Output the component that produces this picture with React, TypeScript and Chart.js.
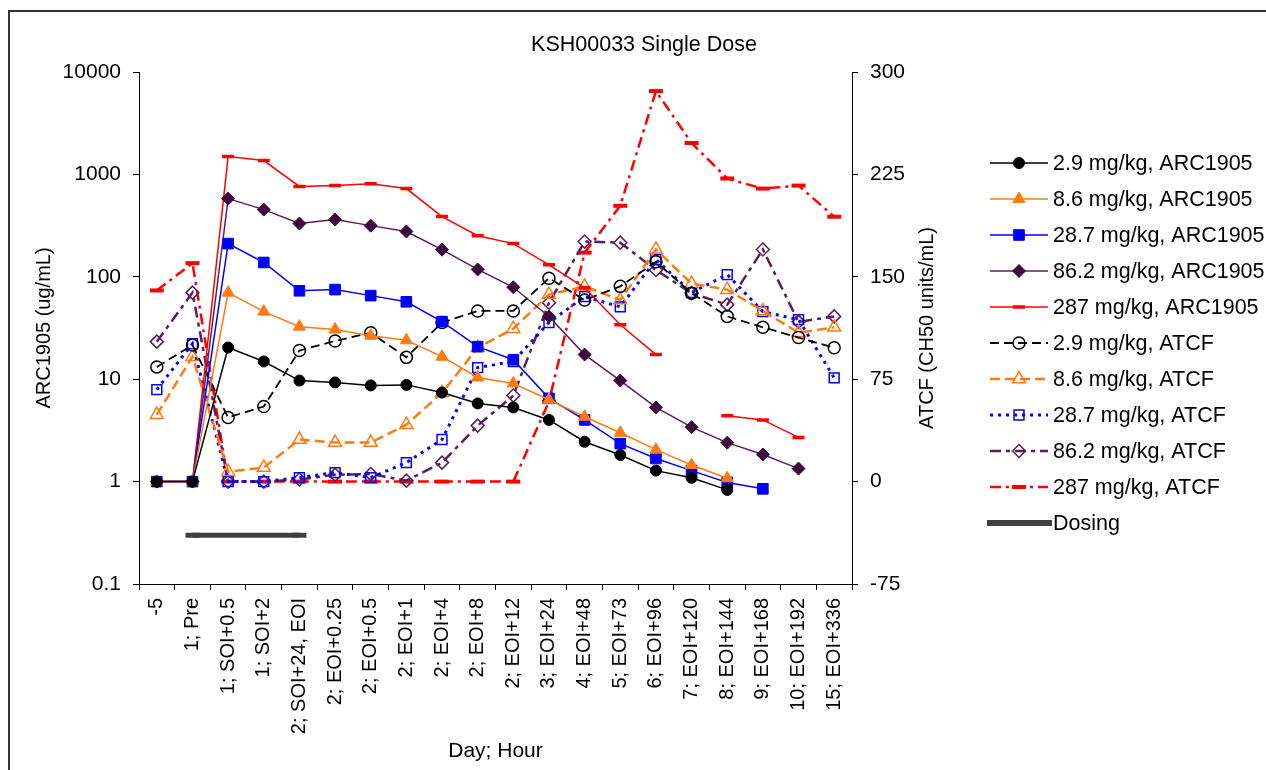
import React, { useEffect, useRef } from "react";
import { Chart, registerables } from "chart.js";

Chart.register(...registerables);

const FONT = "'Liberation Sans', Arial, sans-serif";

const LABELS = [
  "-5", "1; Pre", "1; SOI+0.5", "1; SOI+2", "2; SOI+24, EOI", "2; EOI+0.25", "2; EOI+0.5",
  "2; EOI+1", "2; EOI+4", "2; EOI+8", "2; EOI+12", "3; EOI+24", "4; EOI+48", "5; EOI+73",
  "6; EOI+96", "7; EOI+120", "8; EOI+144", "9; EOI+168", "10; EOI+192", "15; EOI+336",
];

const Y_TICKS = [0.1, 1, 10, 100, 1000, 10000];

// ARC1905 (ug/mL), left log axis
const ARC_2_9 = [1, 1, 20.4, 14.9, 9.7, 9.3, 8.7, 8.8, 7.4, 5.8, 5.3, 4.0, 2.45, 1.82, 1.28, 1.09, 0.83, null, null, null];
const ARC_8_6 = [1, 1, 70, 45.7, 32.6, 30.6, 26.6, 24, 16.6, 10.4, 9.1, 6.3, 4.3, 3.0, 2.05, 1.45, 1.08, null, null, null];
const ARC_28_7 = [1, 1, 211, 138, 73, 75, 65.5, 57, 36.5, 20.8, 15.5, 6.5, 4.0, 2.35, 1.68, 1.28, 0.98, 0.85, null, null];
const ARC_86_2 = [1, 1, 580, 453, 331, 362, 316, 277, 184, 118, 79, 41, 17.4, 9.7, 5.3, 3.4, 2.4, 1.84, 1.34, null];
const ARC_287 = [1, 1, 1493, 1364, 763, 780, 811, 727, 387, 252, 211, 131, 78, 34, 17.4, null, 4.4, 4.0, 2.7, null];

// ATCF (CH50 units/mL), right linear axis
const ATCF_2_9 = [84, 100, 47, 55, 96, 103, 109, 91, 116.5, 125, 125, 149, 133, 143, 161, 138, 121, 113, 105.5, 98];
const ATCF_8_6 = [49, 91.5, 7.3, 10.3, 30.8, 28.6, 28.6, 41.7, 65, 98, 112, 137, 143, 133, 170, 145, 140.6, 125, 109, 113];
const ATCF_28_7 = [67.4, 101, 0, 0, 2.9, 6.6, 2.9, 13.9, 30.8, 83.5, 88, 116.5, 135.5, 128, 162.6, 138.4, 151.6, 124.5, 118.6, 76];
const ATCF_86_2 = [102.5, 138.4, 0, 0, 1.5, 5, 5.5, 0.7, 13.9, 41, 63, 131, 175.8, 175, 155, 138, 129.6, 170, 117, 121];
const ATCF_287 = [140, 160, 0, 0, 0, 0, 0, 0, 0, 0, 0, 58.6, 167.7, 202, 286, 248, 222, 214.6, 216.8, 194];

const DOSING = [null, 0.3, 0.3, 0.3, 0.3, null, null, null, null, null, null, null, null, null, null, null, null, null, null, null];

const ORANGE = "#FF7A10";
const BLUE = "#0000FF";
const PURPLE = "#3E0A3E";
const PURPLE_LINE = "#5A1E5A";
const RED = "#FF0000";
const BLACK = "#000000";
const CLEAR = "rgba(0,0,0,0)";

function arc(label: string, data: any[], color: string, lineColor: string, style: string, radius: number, markerBorder = 1) {
  return {
    label, data, yAxisID: "y",
    borderColor: lineColor, borderWidth: 1.5, tension: 0, spanGaps: false,
    pointStyle: style, pointRadius: radius, pointHoverRadius: radius,
    pointBackgroundColor: color, pointBorderColor: color, pointBorderWidth: markerBorder,
  };
}

function atcf(label: string, data: any[], color: string, dash: number[], width: number, style: string, radius: number, markerBorder = 1.5, fill = CLEAR) {
  return {
    label, data, yAxisID: "y2",
    borderColor: color, borderWidth: width, borderDash: dash, tension: 0, spanGaps: false,
    pointStyle: style, pointRadius: radius, pointHoverRadius: radius,
    pointBackgroundColor: fill, pointBorderColor: color, pointBorderWidth: markerBorder,
  };
}

function drawMarker(ctx: CanvasRenderingContext2D, style: string, x: number, y: number, r: number, fill: string, stroke: string, bw: number) {
  ctx.save();
  ctx.setLineDash([]);
  ctx.lineWidth = bw;
  ctx.strokeStyle = stroke;
  ctx.fillStyle = fill;
  ctx.beginPath();
  if (style === "circle") {
    ctx.arc(x, y, r, 0, Math.PI * 2);
  } else if (style === "triangle") {
    let a = 0;
    for (let i = 0; i < 3; i++) {
      const px = x + Math.sin(a) * r;
      const py = y - Math.cos(a) * r;
      if (i === 0) ctx.moveTo(px, py); else ctx.lineTo(px, py);
      a += (2 * Math.PI) / 3;
    }
    ctx.closePath();
  } else if (style === "rect") {
    const s = r * Math.SQRT1_2;
    ctx.rect(x - s, y - s, 2 * s, 2 * s);
  } else if (style === "rectRot") {
    ctx.moveTo(x - r, y);
    ctx.lineTo(x, y - r);
    ctx.lineTo(x + r, y);
    ctx.lineTo(x, y + r);
    ctx.closePath();
  } else if (style === "line") {
    ctx.moveTo(x - r, y);
    ctx.lineTo(x + r, y);
  }
  if (style !== "line") ctx.fill();
  ctx.stroke();
  ctx.restore();
}

const overlayPlugin = {
  id: "overlay",
  afterDraw(chart: any) {
    const ctx: CanvasRenderingContext2D = chart.ctx;
    const area = chart.chartArea;
    ctx.save();
    ctx.fillStyle = "#000";
    ctx.textAlign = "center";
    ctx.textBaseline = "middle";
    // chart title
    ctx.font = `21.5px ${FONT}`;
    ctx.fillText("KSH00033 Single Dose", 644, 45);
    // right axis title (reads bottom to top)
    ctx.font = `20px ${FONT}`;
    ctx.save();
    ctx.translate(927, (area.top + area.bottom) / 2);
    ctx.rotate(-Math.PI / 2);
    ctx.fillText("ATCF (CH50 units/mL)", 0, 0);
    ctx.restore();

    // legend
    const x0 = 990, x1 = 1048, xm = (x0 + x1) / 2, tx = 1053;
    let y = 163;
    const step = 36;
    ctx.font = `21.5px ${FONT}`;
    ctx.textAlign = "left";
    chart.data.datasets.forEach((ds: any) => {
      if (ds.label === "Dosing") {
        ctx.save();
        ctx.strokeStyle = ds.borderColor;
        ctx.lineWidth = 6;
        ctx.lineCap = "butt";
        ctx.beginPath();
        ctx.moveTo(987, y);
        ctx.lineTo(1052, y);
        ctx.stroke();
        ctx.restore();
      } else {
        ctx.save();
        ctx.strokeStyle = ds.borderColor;
        ctx.lineWidth = ds.borderWidth;
        ctx.setLineDash(ds.borderDash || []);
        ctx.beginPath();
        ctx.moveTo(x0, y);
        ctx.lineTo(x1, y);
        ctx.stroke();
        ctx.restore();
        drawMarker(ctx, ds.pointStyle, xm, y, ds.pointRadius, ds.pointBackgroundColor, ds.pointBorderColor, ds.pointBorderWidth);
      }
      ctx.fillStyle = "#000";
      ctx.fillText(ds.label, tx, y + 1);
      y += step;
    });
    ctx.restore();
  },
};

export default function App() {
  const ref = useRef<HTMLCanvasElement>(null);

  useEffect(() => {
    const canvas = ref.current;
    if (!canvas) return;
    Chart.defaults.font.family = FONT;
    Chart.defaults.font.size = 20;
    Chart.defaults.color = "#000";

    const datasets: any[] = [
      arc("2.9 mg/kg, ARC1905", ARC_2_9, BLACK, BLACK, "circle", 5.5),
      arc("8.6 mg/kg, ARC1905", ARC_8_6, ORANGE, ORANGE, "triangle", 7),
      arc("28.7 mg/kg, ARC1905", ARC_28_7, BLUE, BLUE, "rect", 7.5),
      arc("86.2 mg/kg, ARC1905", ARC_86_2, PURPLE, PURPLE_LINE, "rectRot", 6.5),
      arc("287 mg/kg, ARC1905", ARC_287, RED, RED, "line", 6, 3.5),
      atcf("2.9 mg/kg, ATCF", ATCF_2_9, BLACK, [9, 5], 1.8, "circle", 6),
      atcf("8.6 mg/kg, ATCF", ATCF_8_6, ORANGE, [10, 5], 2.5, "triangle", 7.5),
      atcf("28.7 mg/kg, ATCF", ATCF_28_7, BLUE, [3, 5], 3, "rect", 7),
      atcf("86.2 mg/kg, ATCF", ATCF_86_2, PURPLE_LINE, [11, 5, 4, 5], 2.5, "rectRot", 6.5),
      atcf("287 mg/kg, ATCF", ATCF_287, RED, [11, 5, 3, 5], 2.5, "line", 7, 4),
      {
        label: "Dosing", data: DOSING, yAxisID: "y",
        borderColor: "#404040", borderWidth: 5, tension: 0, spanGaps: false,
        pointStyle: "line",
        pointRadius: (c: any) => (c.dataIndex === 1 || c.dataIndex === 4 ? 7 : 0),
        pointHoverRadius: 0,
        pointBorderColor: "#404040", pointBorderWidth: 5,
      },
    ];

    const chart = new Chart(canvas, {
      type: "line",
      data: { labels: LABELS, datasets },
      options: {
        responsive: false,
        animation: false,
        devicePixelRatio: 1,
        events: [],
        layout: { padding: { left: 32, right: 327, top: 72, bottom: 0 } },
        plugins: {
          legend: { display: false },
          tooltip: { enabled: false },
          title: { display: false },
        },
        scales: {
          x: {
            type: "category",
            offset: true,
            grid: { display: true, drawOnChartArea: false, drawTicks: true, tickLength: 6, color: "#000", tickColor: "#000", offset: true },
            border: { display: true, color: "#000", width: 1 },
            ticks: { autoSkip: false, maxRotation: 90, minRotation: 90, padding: 8, color: "#000", font: { size: 20, family: FONT } },
            title: { display: true, text: "Day; Hour", color: "#000", font: { size: 21, family: FONT }, padding: { top: 0, bottom: 6 } },
            afterFit: (s: any) => { s.height = 186; },
          },
          y: {
            type: "logarithmic",
            position: "left",
            min: 0.1,
            max: 10000,
            afterBuildTicks: (s: any) => { s.ticks = Y_TICKS.map((v) => ({ value: v })); },
            ticks: { callback: (v: any) => String(v), padding: 12, color: "#000", font: { size: 21, family: FONT } },
            grid: { display: true, drawOnChartArea: false, drawTicks: true, tickLength: 6, color: "#000", tickColor: "#000" },
            border: { display: true, color: "#000", width: 1 },
            title: { display: true, text: "ARC1905 (ug/mL)", color: "#000", font: { size: 20, family: FONT }, padding: 0 },
            afterFit: (s: any) => { s.width = 107; },
          },
          y2: {
            type: "linear",
            position: "right",
            min: -75,
            max: 300,
            ticks: { stepSize: 75, padding: 12, color: "#000", font: { size: 21, family: FONT } },
            grid: { display: true, drawOnChartArea: false, drawTicks: true, tickLength: 6, color: "#000", tickColor: "#000" },
            border: { display: true, color: "#000", width: 1 },
            title: { display: false },
            afterFit: (s: any) => { s.width = 87; },
          },
        },
      } as any,
      plugins: [overlayPlugin],
    } as any);

    return () => chart.destroy();
  }, []);

  return (
    <div>
      <div
        style={{
          position: "fixed", left: 8, top: 10, width: 2000, height: 2000,
          border: "2px solid #333", boxSizing: "border-box", background: "#fff",
        }}
      />
      <canvas
        ref={ref}
        width={1266}
        height={770}
        style={{ position: "fixed", left: 0, top: 0, width: 1266, height: 770 }}
      />
    </div>
  );
}
